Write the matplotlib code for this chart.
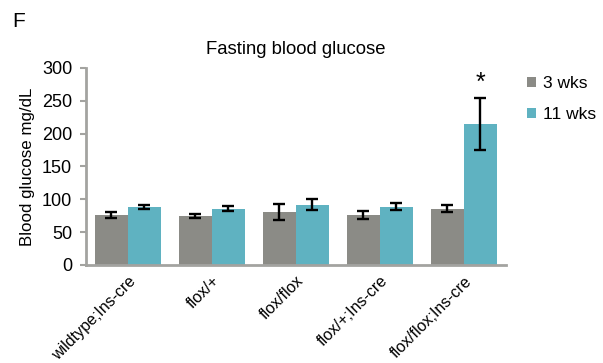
import matplotlib.pyplot as plt
import numpy as np

plt.rcParams['font.family'] = ['Liberation Sans', 'DejaVu Sans']

groups = ['wildtype;Ins-cre', 'flox/+', 'flox/flox', 'flox/+;Ins-cre', 'flox/flox;Ins-cre']
wk3 = [76, 74, 81, 76, 86]
wk3_err = [4.5, 3, 12, 6, 5.5]
wk11 = [89, 86, 92, 89, 215]
wk11_err = [3, 4, 8, 5.5, 40]
series_names = ['3 wks', '11 wks']

gray = '#8b8b86'
teal = '#5fb2c1'
axcol = '#a3a3a0'

fig = plt.figure(figsize=(6.03, 3.63), dpi=100)
ax = fig.add_axes([0.1426, 0.270, 0.6965, 0.5427])

x = np.arange(len(groups))
w = 0.393
ekw = dict(ecolor='black', elinewidth=1.7, capthick=1.7, capsize=4)
ax.bar(x - w/2, wk3, w, color=gray, yerr=wk3_err, error_kw=ekw, label=series_names[0])
ax.bar(x + w/2, wk11, w, color=teal, yerr=wk11_err, error_kw=ekw, label=series_names[1])

# significance star
ax.text(x[-1] + w/2, wk11[-1] + wk11_err[-1] + 4, '*', ha='center', va='bottom', fontsize=18)

ax.set_xlim(-0.5, len(groups) - 0.5)
ax.set_ylim(0, 300)
ax.set_yticks(range(0, 301, 50))
ax.tick_params(axis='y', labelsize=13, color=axcol, length=4, width=1.5, pad=6)
ax.set_xticks(x)
ax.set_xticklabels(groups, rotation=45, ha='right', rotation_mode='anchor', fontsize=11.5)
ax.tick_params(axis='x', length=0, pad=6)
for s in ['top', 'right']:
    ax.spines[s].set_visible(False)
for s in ['left', 'bottom']:
    ax.spines[s].set_color(axcol)
    ax.spines[s].set_linewidth(2)

ax.set_ylabel('Blood glucose mg/dL', fontsize=12.2, labelpad=5)
ax.set_title('Fasting blood glucose', fontsize=13.3, pad=10)
fig.text(0.02, 0.925, 'F', fontsize=15)

ax.legend(frameon=False, loc='upper left', bbox_to_anchor=(0.874, 0.79), bbox_transform=fig.transFigure,
          borderpad=0, borderaxespad=0, fontsize=12.5, handlelength=0.5, handleheight=0.5,
          handletextpad=0.4, labelspacing=0.9)

fig.savefig('out.png', dpi=100)
